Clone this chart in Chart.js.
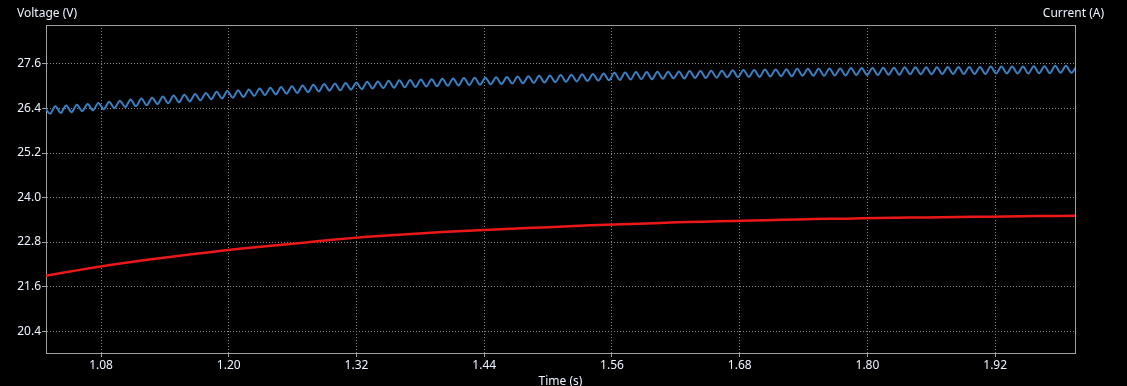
<!DOCTYPE html>
<html>
<head>
<meta charset="utf-8">
<script src="https://cdn.jsdelivr.net/npm/chart.js@4"></script>
<style>
    html, body { margin: 0; padding: 0; background: #000; overflow: hidden; }
    canvas { display: block; }
</style>
</head>
<body>
<canvas id="scopeChart" width="1127" height="386"></canvas>
<script>
// x axis (s) and tick positions
const timeMin = 1.0283;
const timeMax = 1.995;
const timeTicks = [1.08, 1.20, 1.32, 1.44, 1.56, 1.68, 1.80, 1.92];

// y axis (V) and tick positions
const voltMin = 19.81;
const voltMax = 28.65;
const voltTicks = [20.4, 21.6, 22.8, 24.0, 25.2, 26.4, 27.6];

// blue trace: ripple vertices (peak / trough) sampled every half period
const rippleStart = 1.027;
const rippleHalfPeriod = 0.00505;
const blueVoltage = [
    26.43,
    26.26, 26.46, 26.28, 26.48, 26.30, 26.50, 26.33, 26.52, 26.35, 26.55,
    26.38, 26.58, 26.41, 26.61, 26.44, 26.64, 26.46, 26.67, 26.49, 26.69,
    26.52, 26.72, 26.54, 26.75, 26.57, 26.77, 26.59, 26.79, 26.62, 26.82,
    26.65, 26.85, 26.67, 26.87, 26.69, 26.89, 26.71, 26.91, 26.74, 26.94,
    26.76, 26.96, 26.78, 26.98, 26.80, 27.00, 26.82, 27.02, 26.84, 27.04,
    26.86, 27.06, 26.88, 27.07, 26.89, 27.09, 26.91, 27.10, 26.92, 27.12,
    26.94, 27.13, 26.95, 27.15, 26.96, 27.16, 26.97, 27.17, 26.98, 27.18,
    26.99, 27.19, 27.00, 27.20, 27.01, 27.21, 27.02, 27.22, 27.03, 27.23,
    27.04, 27.23, 27.05, 27.24, 27.06, 27.25, 27.07, 27.26, 27.08, 27.27,
    27.09, 27.28, 27.10, 27.29, 27.11, 27.30, 27.12, 27.31, 27.13, 27.32,
    27.14, 27.33, 27.15, 27.34, 27.16, 27.36, 27.17, 27.37, 27.18, 27.38,
    27.19, 27.38, 27.19, 27.39, 27.20, 27.39, 27.21, 27.40, 27.21, 27.41,
    27.22, 27.41, 27.22, 27.42, 27.23, 27.42, 27.24, 27.43, 27.24, 27.44,
    27.25, 27.44, 27.25, 27.45, 27.26, 27.45, 27.27, 27.46, 27.27, 27.47,
    27.28, 27.47, 27.28, 27.47, 27.28, 27.48, 27.29, 27.48, 27.29, 27.49,
    27.30, 27.49, 27.30, 27.49, 27.30, 27.50, 27.31, 27.50, 27.31, 27.51,
    27.32, 27.51, 27.32, 27.51, 27.32, 27.51, 27.33, 27.52, 27.33, 27.52,
    27.33, 27.52, 27.33, 27.52, 27.33, 27.53, 27.34, 27.53, 27.34, 27.53,
    27.34, 27.53, 27.34, 27.54, 27.35, 27.54, 27.35, 27.55, 27.36, 27.55,
    27.36, 27.55
];

// red trace
const redTime = [
    1.028, 1.06, 1.09, 1.12, 1.15, 1.18, 1.21, 1.24, 1.27, 1.30, 1.33,
    1.36, 1.39, 1.42, 1.45, 1.48, 1.51, 1.54, 1.57, 1.60, 1.63, 1.66,
    1.69, 1.72, 1.75, 1.78, 1.81, 1.84, 1.87, 1.90, 1.93, 1.96, 1.995
];
const redVoltage = [
    21.89, 22.05, 22.19, 22.31, 22.42, 22.52, 22.62, 22.70, 22.78, 22.87, 22.94,
    23.00, 23.05, 23.10, 23.14, 23.18, 23.21, 23.25, 23.28, 23.31, 23.34, 23.36,
    23.38, 23.40, 23.42, 23.43, 23.45, 23.46, 23.47, 23.48, 23.49, 23.50, 23.51
];

const textColor = '#eef4ff';
const gridColor = '#8a8a8a';
const frameColor = '#a0a0a0';
const font = { family: "'Noto Sans', 'DejaVu Sans', sans-serif", size: 12 };

const frameAndTitles = {
    id: 'frameAndTitles',
    beforeDatasetsDraw(chart) {
        const { ctx, chartArea } = chart;
        ctx.save();
        ctx.strokeStyle = frameColor;
        ctx.lineWidth = 1;
        ctx.strokeRect(chartArea.left + 0.5, chartArea.top + 0.5,
            chartArea.right - chartArea.left, chartArea.bottom - chartArea.top);
        ctx.restore();
    },
    afterDraw(chart) {
        const ctx = chart.ctx;
        ctx.save();
        ctx.fillStyle = textColor;
        ctx.font = '12px ' + font.family;
        ctx.textBaseline = 'middle';
        ctx.textAlign = 'left';
        ctx.fillText('Voltage (V)', 17, 14);
        ctx.textAlign = 'right';
        ctx.fillText('Current (A)', 1104, 14);
        ctx.restore();
    }
};

const ctx = document.getElementById('scopeChart');

new Chart(ctx, {
    type: 'line',
    data: {
        datasets: [{
            label: 'Voltage',
            data: blueVoltage.map((v, i) => ({ x: rippleStart + i * rippleHalfPeriod, y: v })),
            borderColor: 'rgb(58, 128, 196)',
            borderWidth: 2,
            pointRadius: 0,
            tension: 0.3
        }, {
            label: 'Current',
            data: redTime.map((t, i) => ({ x: t, y: redVoltage[i] })),
            borderColor: 'rgb(236, 24, 24)',
            borderWidth: 2.5,
            pointRadius: 0,
            tension: 0.2
        }]
    },
    options: {
        responsive: false,
        animation: false,
        devicePixelRatio: 1,
        layout: { padding: { top: 25, right: 52, left: 0, bottom: 0 } },
        plugins: {
            legend: { display: false },
            tooltip: { enabled: false }
        },
        scales: {
            x: {
                type: 'linear',
                min: timeMin,
                max: timeMax,
                afterBuildTicks: (scale) => { scale.ticks = timeTicks.map(v => ({ value: v })); },
                afterFit: (scale) => { scale.height = 33; },
                ticks: {
                    color: textColor,
                    font: font,
                    padding: 1,
                    maxRotation: 0,
                    callback: (v) => v.toFixed(2)
                },
                grid: { color: gridColor, tickColor: frameColor, tickLength: 4 },
                border: { color: frameColor, dash: [1, 2] },
                title: {
                    display: true,
                    text: 'Time (s)',
                    color: textColor,
                    font: font,
                    padding: { top: 0, bottom: -3 }
                }
            },
            y: {
                min: voltMin,
                max: voltMax,
                afterBuildTicks: (scale) => { scale.ticks = voltTicks.map(v => ({ value: v })); },
                afterFit: (scale) => { scale.width = 46; },
                ticks: {
                    color: textColor,
                    font: font,
                    padding: 1,
                    callback: (v) => v.toFixed(1)
                },
                grid: { color: gridColor, tickColor: frameColor, tickLength: 4 },
                border: { color: frameColor, dash: [1, 2] }
            }
        }
    },
    plugins: [frameAndTitles]
});
</script>
</body>
</html>
